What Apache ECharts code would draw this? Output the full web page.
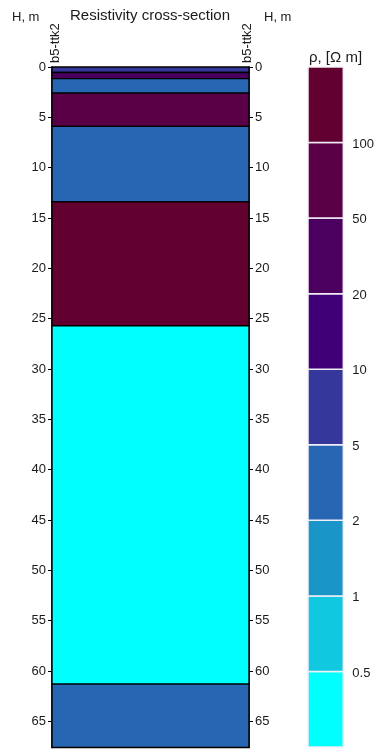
<!DOCTYPE html>
<html>
<head>
<meta charset="utf-8">
<script src="https://cdn.jsdelivr.net/npm/echarts@6/dist/echarts.min.js"></script>
<style>
  html, body { margin: 0; padding: 0; background: #fff; }
  #chart { width: 377px; height: 753px; }
</style>
</head>
<body>
<div id="chart"></div>
<script>
// Layer model for well b5-ttk2: tops and bottoms in metres, resistivity in Ohm*m
var layerTop    = [0,    0.55, 1.15, 2.6,  5.9,  13.4, 25.7, 61.3];
var layerBottom = [0.55, 1.15, 2.6,  5.9,  13.4, 25.7, 61.3, 67.6];
var layerRho    = [7,    30,   3,    70,   3,    150,  0.3,  3];

// Colour classes of the resistivity scale
var rhoThresholds = [0.5, 1, 2, 5, 10, 20, 50, 100];
var rhoColors = ['#00FFFF', '#10C8E0', '#1A95C8', '#2766B2', '#35389A',
                 '#3F0077', '#4B005F', '#5A0046', '#620030'];

// Depth axis ticks
var depthTicks = [0, 5, 10, 15, 20, 25, 30, 35, 40, 45, 50, 55, 60, 65];
var depthMax = 67.6;

var FONT = '"Liberation Sans", Arial, sans-serif';
var TXT = '#1a1a1a';

var layerData = layerTop.map(function (t, i) {
  return [t, layerBottom[i], layerRho[i]];
});

var pieces = [];
for (var i = 0; i <= rhoThresholds.length; i++) {
  var p = { color: rhoColors[i] };
  if (i > 0) p.gte = rhoThresholds[i - 1];
  if (i < rhoThresholds.length) p.lt = rhoThresholds[i];
  pieces.push(p);
}

// Scale bar: one block per colour class, stacked bottom-up
var scaleData = rhoColors.map(function (c, i) { return [i, i + 1, i]; });

var chart = echarts.init(document.getElementById('chart'), null, { renderer: 'canvas' });

var depthAxisCommon = {
  type: 'value',
  inverse: true,
  min: 0,
  max: depthMax,
  interval: 5,
  gridIndex: 0,
  splitLine: { show: false },
  axisLine: { show: true, lineStyle: { color: '#000', width: 1.5 } },
  axisTick: { show: true, length: 4, lineStyle: { color: '#000', width: 1 } },
  axisLabel: {
    margin: 6,
    color: TXT,
    fontFamily: FONT,
    fontSize: 13,
    showMaxLabel: false,
    formatter: function (v) { return depthTicks.indexOf(v) >= 0 ? String(v) : ''; }
  }
};

chart.setOption({
  animation: false,
  backgroundColor: '#fff',
  grid: [
    { left: 52, right: 128, top: 67, bottom: 5.5 },
    { left: 308, width: 38, top: 67, bottom: 6 }
  ],
  xAxis: [
    { type: 'value', gridIndex: 0, min: 0, max: 1, show: false },
    { type: 'value', gridIndex: 1, min: 0, max: 1, show: false }
  ],
  yAxis: [
    Object.assign({}, depthAxisCommon, { position: 'left' }),
    Object.assign({}, depthAxisCommon, { position: 'right' }),
    {
      type: 'value',
      gridIndex: 1,
      position: 'right',
      min: 0,
      max: rhoColors.length,
      interval: 1,
      splitLine: { show: false },
      axisLine: { show: false },
      axisTick: { show: false },
      axisLabel: {
        margin: 9,
        color: TXT,
        fontFamily: FONT,
        fontSize: 13,
        verticalAlign: 'top',
        padding: [-5, 0, 0, 0],
        formatter: function (v) {
          return (v >= 1 && v <= rhoThresholds.length) ? String(rhoThresholds[v - 1]) : '';
        }
      }
    }
  ],
  visualMap: [{
    type: 'piecewise',
    show: false,
    seriesIndex: 0,
    dimension: 2,
    pieces: pieces
  }],
  series: [
    {
      type: 'custom',
      xAxisIndex: 0,
      yAxisIndex: 0,
      data: layerData,
      encode: { y: [0, 1] },
      renderItem: function (params, api) {
        var p0 = api.coord([0, api.value(0)]);
        var p1 = api.coord([1, api.value(1)]);
        return {
          type: 'rect',
          shape: { x: p0[0], y: p0[1], width: p1[0] - p0[0], height: p1[1] - p0[1] },
          style: { fill: api.visual('color'), stroke: '#000', lineWidth: 1.4 }
        };
      }
    },
    {
      type: 'custom',
      xAxisIndex: 1,
      yAxisIndex: 2,
      data: scaleData,
      encode: { y: [0, 1] },
      renderItem: function (params, api) {
        var p0 = api.coord([0, api.value(1)]);
        var p1 = api.coord([1, api.value(0)]);
        return {
          type: 'rect',
          shape: { x: p0[0], y: p0[1], width: p1[0] - p0[0], height: p1[1] - p0[1] },
          style: { fill: rhoColors[api.value(2)], stroke: '#f2eef6', lineWidth: 1.5 }
        };
      }
    }
  ],
  graphic: [
    { type: 'text', left: 12, top: 11,
      style: { text: 'H, m', font: '13px ' + FONT, fill: TXT } },
    { type: 'text', x: 150, y: 16,
      style: { text: 'Resistivity cross-section', font: '15px ' + FONT, fill: TXT,
               textAlign: 'center', textVerticalAlign: 'middle' } },
    { type: 'text', left: 264, top: 11,
      style: { text: 'H, m', font: '13px ' + FONT, fill: TXT } },
    { type: 'text', x: 55, y: 63, rotation: Math.PI / 2,
      style: { text: 'b5-ttk2', font: '13px ' + FONT, fill: TXT,
               textAlign: 'left', textVerticalAlign: 'middle' } },
    { type: 'text', x: 247, y: 63, rotation: Math.PI / 2,
      style: { text: 'b5-ttk2', font: '13px ' + FONT, fill: TXT,
               textAlign: 'left', textVerticalAlign: 'middle' } },
    { type: 'text', x: 309, y: 58,
      style: { text: 'ρ, [Ω m]', font: '15px ' + FONT, fill: TXT,
               textAlign: 'left', textVerticalAlign: 'middle' } }
  ]
});
</script>
</body>
</html>
